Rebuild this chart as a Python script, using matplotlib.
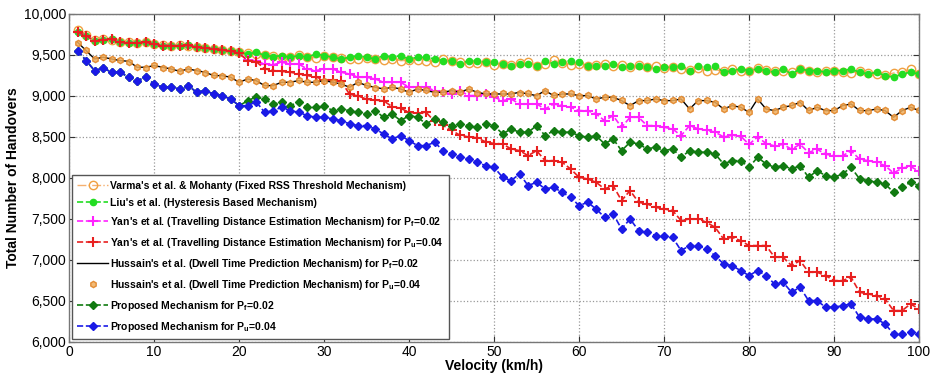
import matplotlib
matplotlib.use("Agg")
import matplotlib.pyplot as plt
from matplotlib.ticker import FuncFormatter, MultipleLocator

plt.rcParams['font.family'] = ['Liberation Sans', 'DejaVu Sans']
plt.rcParams['mathtext.fontset'] = 'custom'
plt.rcParams['mathtext.rm'] = 'Liberation Sans:bold'
plt.rcParams['mathtext.it'] = 'Liberation Sans:bold'
plt.rcParams['mathtext.bf'] = 'Liberation Sans:bold'

velocity = list(range(1, 101))

varma = [9800, 9740, 9680, 9690, 9680, 9660, 9655, 9640, 9660, 9630,
         9620, 9610, 9620, 9610, 9600, 9580, 9570, 9560, 9550, 9540,
         9520, 9510, 9500, 9490, 9480, 9475, 9495, 9470, 9465, 9485,
         9470, 9460, 9455, 9450, 9460, 9445, 9440, 9455, 9430, 9435,
         9440, 9430, 9415, 9445, 9425, 9410, 9405, 9400, 9415, 9380,
         9390, 9380, 9400, 9420, 9370, 9390, 9440, 9400, 9380, 9390,
         9370, 9380, 9395, 9360, 9375, 9355, 9380, 9350, 9360, 9340,
         9350, 9330, 9320, 9340, 9310, 9320, 9300, 9330, 9310, 9300,
         9340, 9320, 9310, 9300, 9290, 9330, 9300, 9290, 9310, 9300,
         9290, 9280, 9300, 9280, 9270, 9250, 9280, 9290, 9330, 9270]

liu = [9776, 9736, 9667, 9683, 9691, 9654, 9650, 9646, 9654, 9634,
       9614, 9614, 9610, 9618, 9593, 9585, 9573, 9561, 9545, 9530,
       9512, 9532, 9495, 9480, 9492, 9472, 9492, 9472, 9512, 9492,
       9472, 9451, 9472, 9492, 9472, 9451, 9492, 9472, 9492, 9451,
       9472, 9472, 9451, 9431, 9431, 9390, 9431, 9431, 9411, 9411,
       9390, 9370, 9390, 9390, 9370, 9431, 9390, 9411, 9431, 9411,
       9370, 9370, 9370, 9390, 9350, 9370, 9370, 9350, 9329, 9350,
       9350, 9370, 9309, 9370, 9350, 9370, 9289, 9309, 9329, 9309,
       9329, 9309, 9289, 9329, 9268, 9329, 9309, 9309, 9289, 9309,
       9309, 9329, 9289, 9268, 9289, 9248, 9228, 9268, 9289, 9268]

yan_pf = [9776, 9736, 9667, 9683, 9691, 9654, 9650, 9646, 9654, 9634,
          9614, 9614, 9610, 9618, 9593, 9585, 9573, 9561, 9545, 9520,
          9440, 9430, 9390, 9380, 9411, 9390, 9390, 9329, 9309, 9329,
          9329, 9289, 9268, 9228, 9228, 9207, 9167, 9167, 9167, 9106,
          9106, 9106, 9065, 9045, 9024, 9065, 9004, 9004, 9024, 8984,
          8943, 8963, 8902, 8902, 8902, 8841, 8902, 8882, 8862, 8821,
          8821, 8780, 8699, 8760, 8618, 8740, 8740, 8638, 8638, 8618,
          8598, 8516, 8638, 8600, 8580, 8560, 8500, 8520, 8510, 8410,
          8500, 8420, 8390, 8410, 8350, 8410, 8310, 8350, 8290, 8270,
          8270, 8330, 8230, 8210, 8190, 8150, 8060, 8120, 8140, 8080]

yan_pu = [9776, 9736, 9667, 9683, 9691, 9654, 9650, 9646, 9654, 9634,
          9614, 9614, 9610, 9618, 9593, 9585, 9573, 9561, 9545, 9520,
          9430, 9420, 9330, 9310, 9300, 9290, 9270, 9250, 9230, 9200,
          9190, 9180, 9020, 9000, 8960, 8950, 8940, 8870, 8850, 8800,
          8790, 8800, 8690, 8640, 8580, 8520, 8500, 8490, 8440, 8420,
          8415, 8354, 8333, 8272, 8333, 8211, 8211, 8191, 8110, 8008,
          7988, 7947, 7866, 7907, 7724, 7846, 7703, 7683, 7642, 7622,
          7602, 7480, 7500, 7500, 7459, 7398, 7256, 7276, 7236, 7175,
          7175, 7175, 7033, 7033, 6931, 6992, 6850, 6850, 6809, 6748,
          6748, 6789, 6606, 6585, 6565, 6524, 6382, 6382, 6463, 6402]

hussain_pf = [9654, 9553, 9451, 9472, 9451, 9431, 9423, 9350, 9350, 9370,
              9350, 9329, 9301, 9329, 9309, 9289, 9248, 9248, 9228, 9167,
              9207, 9187, 9126, 9126, 9167, 9167, 9187, 9167, 9167, 9187,
              9167, 9146, 9106, 9167, 9126, 9106, 9085, 9106, 9085, 9045,
              9085, 9065, 9045, 9045, 9065, 9045, 9085, 9045, 9024, 9024,
              9024, 9024, 9045, 9024, 9004, 9065, 9004, 9024, 9024, 9004,
              9004, 8963, 8984, 8984, 8943, 8882, 8943, 8943, 8963, 8943,
              8943, 8963, 8841, 8943, 8943, 8923, 8841, 8882, 8862, 8801,
              8963, 8841, 8821, 8862, 8882, 8923, 8821, 8862, 8821, 8821,
              8882, 8902, 8821, 8821, 8841, 8821, 8740, 8821, 8862, 8821]

hussain_pu = [9650, 9560, 9455, 9470, 9450, 9435, 9420, 9355, 9345, 9375,
              9345, 9330, 9305, 9325, 9310, 9285, 9250, 9245, 9230, 9170,
              9205, 9185, 9130, 9120, 9170, 9160, 9190, 9165, 9170, 9180,
              9165, 9150, 9105, 9165, 9130, 9100, 9090, 9105, 9080, 9050,
              9080, 9070, 9040, 9050, 9060, 9050, 9080, 9040, 9030, 9020,
              9030, 9020, 9040, 9030, 9000, 9060, 9010, 9020, 9030, 9000,
              9010, 8960, 8990, 8980, 8950, 8880, 8940, 8950, 8960, 8940,
              8950, 8960, 8840, 8940, 8950, 8920, 8845, 8880, 8865, 8800,
              8960, 8845, 8820, 8860, 8885, 8920, 8825, 8860, 8820, 8825,
              8880, 8900, 8825, 8820, 8840, 8825, 8745, 8820, 8860, 8825]

proposed_pf = [9553, 9431, 9309, 9341, 9289, 9289, 9228, 9187, 9228, 9146,
               9106, 9106, 9085, 9126, 9045, 9065, 9024, 9004, 8963, 8882,
               8940, 8990, 8960, 8900, 8923, 8882, 8923, 8862, 8862, 8882,
               8821, 8841, 8821, 8800, 8780, 8821, 8740, 8780, 8699, 8760,
               8740, 8659, 8720, 8680, 8638, 8659, 8638, 8618, 8659, 8638,
               8537, 8598, 8557, 8557, 8638, 8516, 8577, 8557, 8557, 8516,
               8496, 8516, 8415, 8476, 8333, 8435, 8415, 8354, 8374, 8333,
               8354, 8252, 8333, 8313, 8313, 8293, 8171, 8211, 8211, 8130,
               8252, 8171, 8130, 8150, 8110, 8150, 8008, 8089, 8028, 8008,
               8049, 8130, 7988, 7967, 7947, 7927, 7825, 7886, 7947, 7906]

proposed_pu = [9553, 9431, 9309, 9341, 9289, 9289, 9228, 9187, 9228, 9146,
               9106, 9106, 9085, 9126, 9045, 9065, 9024, 9004, 8963, 8882,
               8880, 8930, 8800, 8821, 8862, 8821, 8801, 8760, 8740, 8740,
               8720, 8699, 8659, 8638, 8638, 8598, 8537, 8476, 8516, 8455,
               8394, 8394, 8435, 8333, 8293, 8252, 8232, 8191, 8150, 8130,
               8008, 7967, 8049, 7907, 7947, 7866, 7886, 7825, 7764, 7663,
               7703, 7622, 7520, 7561, 7378, 7500, 7358, 7337, 7297, 7297,
               7276, 7114, 7175, 7175, 7134, 7053, 6951, 6931, 6870, 6809,
               6870, 6809, 6707, 6728, 6606, 6667, 6504, 6504, 6423, 6423,
               6443, 6463, 6301, 6280, 6280, 6220, 6098, 6098, 6118, 6098]

labels = [
    "Varma's et al. & Mohanty (Fixed RSS Threshold Mechanism)",
    "Liu's et al. (Hysteresis Based Mechanism)",
    r"Yan's et al. (Travelling Distance Estimation Mechanism) for P$_\mathrm{f}$=0.02",
    r"Yan's et al. (Travelling Distance Estimation Mechanism) for P$_\mathrm{u}$=0.04",
    r"Hussain's et al. (Dwell Time Prediction Mechanism) for P$_\mathrm{f}$=0.02",
    r"Hussain's et al. (Dwell Time Prediction Mechanism) for P$_\mathrm{u}$=0.04",
    r"Proposed Mechanism for P$_\mathrm{f}$=0.02",
    r"Proposed Mechanism for P$_\mathrm{u}$=0.04",
]

fig = plt.figure(figsize=(9.34, 3.77), dpi=100)
ax = fig.add_axes([0.074, 0.093, 0.910, 0.870])

ax.plot(velocity, varma, linestyle='-.', color='#F5B070', linewidth=1.0,
        marker='o', markersize=6, markerfacecolor='none', markeredgecolor='#F0A040',
        markeredgewidth=1.0, label=labels[0])
ax.plot(velocity, liu, linestyle='--', color='#22DD22', linewidth=1.2,
        marker='o', markersize=4.5, markerfacecolor='#22DD22', markeredgecolor='#22DD22',
        label=labels[1])
ax.plot(velocity, yan_pf, linestyle='--', color='#FF22FF', linewidth=1.2,
        marker='+', markersize=7, markeredgewidth=1.5, label=labels[2])
ax.plot(velocity, yan_pu, linestyle='--', color='#E82020', linewidth=1.2,
        marker='+', markersize=7, markeredgewidth=1.5, label=labels[3])
ax.plot(velocity, hussain_pf, linestyle='-', color='black', linewidth=1.0,
        label=labels[4])
ax.plot(velocity, hussain_pu, linestyle='none', marker='h', markersize=4.5,
        markerfacecolor='#F0B060', markeredgecolor='#E08020', markeredgewidth=1.0,
        alpha=0.85, label=labels[5])
ax.plot(velocity, proposed_pf, linestyle='--', color='#117A11', linewidth=1.2,
        marker='D', markersize=4, markerfacecolor='#117A11', markeredgecolor='#117A11',
        label=labels[6])
ax.plot(velocity, proposed_pu, linestyle='--', color='#1A1AE6', linewidth=1.2,
        marker='D', markersize=4, markerfacecolor='#1A1AE6', markeredgecolor='#1A1AE6',
        label=labels[7])

ax.set_xlim(0, 100)
ax.set_ylim(6000, 10000)
ax.xaxis.set_major_locator(MultipleLocator(10))
ax.yaxis.set_major_locator(MultipleLocator(500))
ax.yaxis.set_major_formatter(FuncFormatter(lambda v, p: f"{int(v):,}"))
ax.grid(True, linestyle=':', color='#999999', linewidth=0.9)
ax.tick_params(direction='in', top=True, right=True, labelsize=10, colors='#333333',
               length=4, pad=2)
for s in ax.spines.values():
    s.set_color('#777777')
    s.set_linewidth(1.0)
for t in ax.get_xticklabels() + ax.get_yticklabels():
    t.set_color('black')

ax.set_xlabel("Velocity (km/h)", fontsize=10, fontweight='bold', labelpad=0)
ax.set_ylabel("Total Number of Handovers", fontsize=10, fontweight='bold', labelpad=3)

leg = ax.legend(loc='lower left', prop={'weight': 'bold', 'size': 7.5},
                numpoints=1, handlelength=3.0, handletextpad=0.2, labelspacing=0.68,
                borderaxespad=0.25, borderpad=0.5, fancybox=False, framealpha=1.0,
                edgecolor='#555555')
leg.get_frame().set_linewidth(1.0)

fig.savefig("out.png", dpi=100)
